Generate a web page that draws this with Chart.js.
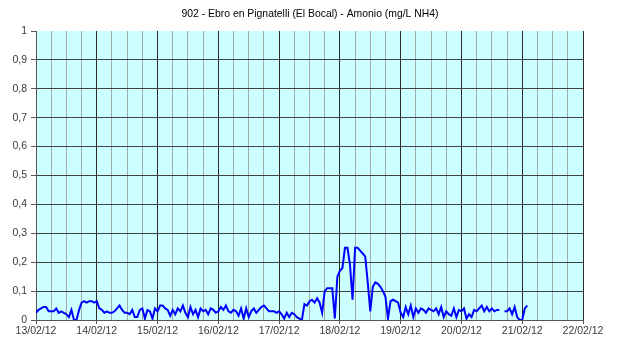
<!DOCTYPE html>
<html>
<head>
<meta charset="utf-8">
<script src="https://cdn.jsdelivr.net/npm/chart.js@4/dist/chart.umd.min.js"></script>
<style>
  html, body { margin: 0; padding: 0; background: #ffffff; }
  #wrap { width: 617px; height: 342px; }
</style>
</head>
<body>
<div id="wrap"><canvas id="c" width="617" height="342"></canvas></div>
<script>
// Station 902 - hourly ammonium readings, 13/02/12 00:00 onwards (mg/L NH4)
const chartTitle = '902 - Ebro en Pignatelli (El Bocal) - Amonio (mg/L NH4)';
const dayLabels = ['13/02/12', '14/02/12', '15/02/12', '16/02/12', '17/02/12',
                   '18/02/12', '19/02/12', '20/02/12', '21/02/12', '22/02/12'];

const day13 = [0.025, 0.035, 0.04, 0.045, 0.045, 0.03, 0.03, 0.03, 0.04, 0.025, 0.03, 0.025,
               0.02, 0.01, 0.035, 0.0, 0.0, 0.035, 0.06, 0.065, 0.06, 0.065, 0.065, 0.06];
const day14 = [0.065, 0.04, 0.035, 0.025, 0.03, 0.025, 0.025, 0.03, 0.04, 0.05, 0.035, 0.025,
               0.025, 0.02, 0.035, 0.01, 0.01, 0.035, 0.04, 0.005, 0.035, 0.03, 0.005, 0.04];
const day15 = [0.03, 0.05, 0.05, 0.04, 0.035, 0.015, 0.035, 0.02, 0.04, 0.03, 0.05, 0.025,
               0.01, 0.045, 0.02, 0.035, 0.01, 0.04, 0.03, 0.035, 0.02, 0.04, 0.035, 0.025];
const day16 = [0.03, 0.045, 0.035, 0.05, 0.03, 0.025, 0.035, 0.03, 0.015, 0.04, 0.005, 0.04,
               0.01, 0.03, 0.04, 0.025, 0.035, 0.045, 0.05, 0.04, 0.03, 0.03, 0.03, 0.025];
const day17 = [0.03, 0.02, 0.005, 0.025, 0.01, 0.025, 0.02, 0.01, 0.005, 0.0, 0.055, 0.05,
               0.065, 0.07, 0.06, 0.075, 0.06, 0.025, 0.1, 0.11, 0.11, 0.11, 0.005, 0.15];
const day18 = [0.17, 0.18, 0.25, 0.25, 0.19, 0.07, 0.25, 0.25, 0.24, 0.23, 0.22, 0.13,
               0.03, 0.115, 0.13, 0.125, 0.115, 0.1, 0.08, 0.005, 0.065, 0.07, 0.065, 0.06];
const day19 = [0.025, 0.01, 0.045, 0.02, 0.05, 0.01, 0.04, 0.025, 0.04, 0.035, 0.025, 0.04,
               0.035, 0.03, 0.04, 0.02, 0.045, 0.01, 0.03, 0.02, 0.015, 0.04, 0.01, 0.035];
// null = missing reading (gap in the line)
const day20 = [0.03, 0.04, 0.005, 0.02, 0.01, 0.035, 0.03, 0.04, 0.05, 0.03, 0.045, 0.03,
               0.04, 0.03, 0.035, 0.035, null, 0.03, 0.03, 0.04, 0.02, 0.045, 0.01, 0.0];
const day21 = [0.0, 0.04, 0.05];

const amonio = [].concat(day13, day14, day15, day16, day17, day18, day19, day20, day21);
const points = amonio.map((v, h) => ({ x: h, y: v }));

const HOURS_SPAN = (dayLabels.length - 1) * 24;

const plotBackground = {
  id: 'plotBackground',
  beforeDraw(chart) {
    const { ctx, chartArea: a } = chart;
    ctx.save();
    ctx.fillStyle = '#ccffff';
    ctx.fillRect(a.left, a.top, a.right - a.left, a.bottom - a.top);
    ctx.restore();
  }
};

const headerText = {
  id: 'headerText',
  afterDraw(chart) {
    const ctx = chart.ctx;
    ctx.save();
    ctx.font = '10.4px "Liberation Sans", Arial, sans-serif';
    ctx.fillStyle = '#000000';
    ctx.textAlign = 'center';
    ctx.textBaseline = 'middle';
    ctx.fillText(chartTitle, 310, 14);
    ctx.restore();
  }
};

const tickFont = { family: '"Liberation Sans", Arial, sans-serif', size: 10.5 };

new Chart(document.getElementById('c'), {
  type: 'line',
  data: {
    datasets: [{
      data: points,
      borderColor: '#0000ff',
      borderWidth: 2,
      pointRadius: 0,
      tension: 0,
      spanGaps: false,
      fill: false
    }]
  },
  options: {
    responsive: false,
    devicePixelRatio: 1,
    animation: false,
    layout: { padding: { top: 31, right: 34, left: 0, bottom: 0 } },
    plugins: { legend: { display: false }, title: { display: false }, tooltip: { enabled: false } },
    scales: {
      x: {
        type: 'linear',
        min: 0,
        max: HOURS_SPAN,
        afterFit(scale) { scale.height = 22; },
        ticks: {
          stepSize: 6,
          autoSkip: false,
          maxRotation: 0,
          padding: 1,
          color: '#3a3a3a',
          font: tickFont,
          callback: (v) => (v % 24 === 0 ? dayLabels[v / 24] : '')
        },
        grid: {
          color: (c) => (c.tick && c.tick.value % 24 === 0 ? '#2a2a2a' : '#a2aaaa'),
          tickColor: (c) => (c.tick && c.tick.value % 24 === 0 ? '#555555' : 'rgba(0,0,0,0)'),
          tickLength: 4,
          lineWidth: 1
        },
        border: { color: '#555555', width: 1 }
      },
      y: {
        min: 0,
        max: 1,
        afterFit(scale) { scale.width = 36; },
        ticks: {
          stepSize: 0.1,
          padding: 4,
          color: '#3a3a3a',
          font: tickFont,
          callback: (v) => {
            const r = Math.round(v * 10) / 10;
            if (r === 0) return '0';
            if (r === 1) return '1';
            return r.toFixed(1).replace('.', ',');
          }
        },
        grid: {
          color: (c) => (c.tick && Math.round(c.tick.value * 10) === 10 ? 'rgba(0,0,0,0)' : '#404040'),
          tickColor: '#555555',
          tickLength: 5,
          lineWidth: 1
        },
        border: { color: '#555555', width: 1 }
      }
    }
  },
  plugins: [plotBackground, headerText]
});
</script>
</body>
</html>
